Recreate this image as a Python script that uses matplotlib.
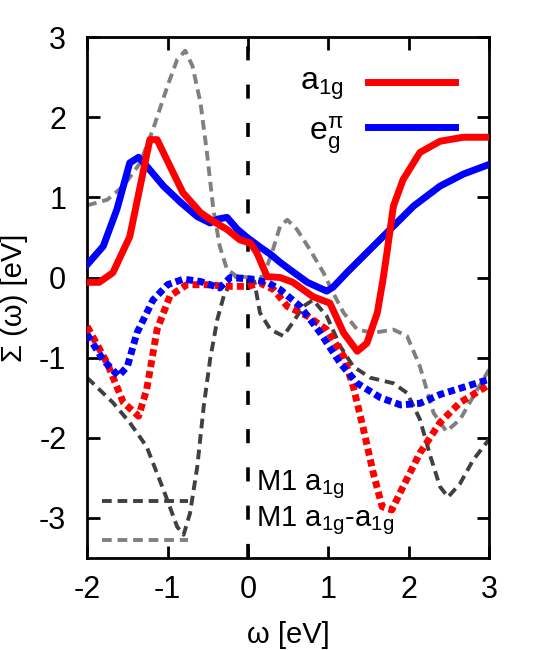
import matplotlib
matplotlib.use("Agg")
import matplotlib.pyplot as plt
from matplotlib.lines import Line2D

plt.rcParams['font.family'] = ['Liberation Sans', 'DejaVu Sans']
plt.rcParams['mathtext.fontset'] = 'custom'
plt.rcParams['mathtext.rm'] = 'Liberation Sans'
plt.rcParams['mathtext.it'] = 'Liberation Sans'

# ---- data ----
a1g_x = [-2.0, -1.85, -1.68, -1.47, -1.34, -1.22, -1.13, -0.97, -0.81, -0.59, -0.43, -0.26, -0.10, 0.03,
         0.11, 0.24, 0.40, 0.56, 0.81, 1.02, 1.19, 1.36, 1.48, 1.61, 1.68, 1.73, 1.81, 1.93, 2.14, 2.39, 2.68, 3.0]
a1g_y = [-0.06, -0.06, 0.06, 0.51, 1.14, 1.72, 1.72, 1.39, 1.06, 0.81, 0.70, 0.60, 0.47, 0.43,
         0.31, 0.01, 0.0, -0.06, -0.24, -0.32, -0.69, -0.92, -0.82, -0.44, -0.03, 0.31, 0.89, 1.22, 1.56, 1.70, 1.75, 1.75]

eg_x = [-2.0, -1.80, -1.63, -1.47, -1.36, -1.26, -1.05, -0.84, -0.63, -0.47, -0.37, -0.26, -0.13, -0.01,
        0.15, 0.28, 0.40, 0.52, 0.74, 0.98, 1.06, 1.23, 1.48, 1.77, 2.06, 2.39, 2.68, 3.0]
eg_y = [0.16, 0.39, 0.85, 1.43, 1.50, 1.39, 1.14, 0.94, 0.76, 0.68, 0.73, 0.75, 0.60, 0.50,
        0.38, 0.29, 0.19, 0.10, -0.06, -0.17, -0.12, 0.06, 0.31, 0.60, 0.89, 1.14, 1.29, 1.41]

a1g_im_x = [-2.0, -1.75, -1.55, -1.36, -1.26, -1.13, -0.97, -0.76, -0.51, -0.26, 0.0, 0.15, 0.32, 0.49,
            0.74, 0.98, 1.19, 1.31, 1.43, 1.56, 1.67, 1.79, 1.93, 2.14, 2.39, 2.64, 3.0]
a1g_im_y = [-0.61, -1.07, -1.56, -1.73, -1.40, -0.65, -0.23, -0.09, -0.09, -0.11, -0.11, -0.07, -0.15, -0.36,
            -0.48, -0.65, -0.98, -1.36, -1.86, -2.44, -2.86, -2.90, -2.61, -2.19, -1.81, -1.56, -1.34]

eg_im_x = [-2.0, -1.80, -1.61, -1.50, -1.38, -1.18, -1.0, -0.80, -0.59, -0.35, -0.22, 0.03, 0.24, 0.40,
           0.65, 0.90, 1.15, 1.36, 1.65, 1.90, 2.14, 2.39, 2.68, 3.0]
eg_im_y = [-0.71, -1.03, -1.23, -1.11, -0.69, -0.28, -0.09, -0.02, -0.05, -0.13, 0.0, -0.02, -0.06, -0.15,
           -0.36, -0.69, -1.07, -1.32, -1.50, -1.59, -1.57, -1.46, -1.37, -1.27]

m1_x = [-2.0, -1.68, -1.47, -1.26, -1.05, -0.88, -0.80, -0.72, -0.63, -0.55, -0.47, -0.38, -0.30, -0.22,
        -0.15, 0.0, 0.08, 0.15, 0.28, 0.44, 0.56, 0.69, 0.81, 0.98, 1.15, 1.31, 1.52, 1.81, 1.98, 2.14,
        2.27, 2.39, 2.49, 2.64, 2.80, 3.0]
m1_y = [-1.25, -1.56, -1.81, -2.11, -2.65, -3.11, -3.21, -2.94, -2.36, -1.61, -1.02, -0.52, -0.23, -0.07,
        0.01, 0.01, -0.05, -0.44, -0.65, -0.73, -0.56, -0.36, -0.28, -0.48, -0.86, -1.11, -1.25, -1.32, -1.44, -1.77,
        -2.23, -2.61, -2.74, -2.57, -2.28, -2.02]

m1aa_x = [-2.0, -1.75, -1.55, -1.34, -1.18, -1.0, -0.88, -0.78, -0.69, -0.59, -0.51, -0.43, -0.35, -0.26,
          -0.13, 0.07, 0.19, 0.30, 0.40, 0.49, 0.61, 0.77, 0.94, 1.06, 1.19, 1.36, 1.56, 1.81, 1.98, 2.14,
          2.31, 2.47, 2.64, 2.80, 3.0]
m1aa_y = [0.90, 0.97, 1.14, 1.43, 1.85, 2.39, 2.72, 2.83, 2.64, 2.18, 1.56, 0.85, 0.39, 0.10,
          0.01, 0.0, 0.01, 0.31, 0.64, 0.72, 0.60, 0.35, 0.06, -0.19, -0.44, -0.65, -0.69, -0.65, -0.73, -1.11,
          -1.69, -1.92, -1.77, -1.49, -1.15]

xticks = [-2, -1, 0, 1, 2, 3]
yticks = [-3, -2, -1, 0, 1, 2, 3]

# ---- figure ----
fig = plt.figure(figsize=(5.38, 6.5), dpi=100)
ax = fig.add_axes([0.162, 0.1415, 0.747, 0.8015])

RED = '#ff0000'
BLUE = '#0000ff'
DGRAY = '#404040'
LGRAY = '#808080'

ax.axvline(0, color='black', lw=2.6, dashes=(3.9, 6.7), zorder=1)

lw_gray = 2.8
gdash = (2.5, 1.5)
ax.plot(m1_x, m1_y, color=DGRAY, lw=lw_gray, dashes=gdash, zorder=2)
ax.plot(m1aa_x, m1aa_y, color=LGRAY, lw=lw_gray, dashes=gdash, zorder=2)

lw_thick = 5.0
ddash = (1.0, 0.6)
ax.plot(a1g_im_x, a1g_im_y, color=RED, lw=lw_thick, dashes=ddash, zorder=3)
ax.plot(eg_im_x, eg_im_y, color=BLUE, lw=lw_thick, dashes=ddash, zorder=3)

ax.plot(eg_x, eg_y, color=BLUE, lw=lw_thick, zorder=4, solid_joinstyle='round')
ax.plot(a1g_x, a1g_y, color=RED, lw=lw_thick, zorder=5, solid_joinstyle='round')

ax.set_xlim(-2, 3)
ax.set_ylim(-3.5, 3)
ax.set_xticks(xticks)
ax.set_yticks(yticks)
ax.set_xticklabels([str(t) for t in xticks])
ax.set_yticklabels([str(t) for t in yticks])
ax.tick_params(direction='in', length=9, width=2, top=True, right=True, labelsize=22)
ax.tick_params(axis='x', pad=12)
ax.tick_params(axis='y', pad=15)
for s in ax.spines.values():
    s.set_linewidth(2)

ax.set_xlabel('ω [eV]', fontsize=21, labelpad=12)
ax.set_ylabel('Σ (ω) [eV]', fontsize=21, labelpad=8)

# top-right key
tr = ax.transAxes
ax.add_line(Line2D([0.700, 0.915], [0.914, 0.914], transform=tr, color=RED, lw=lw_thick))
ax.add_line(Line2D([0.700, 0.915], [0.827, 0.827], transform=tr, color=BLUE, lw=lw_thick))
ax.text(0.637, 0.905, r'a$_{\mathregular{1g}}$', transform=tr, ha='right', va='center', fontsize=23)
ax.text(0.637, 0.812, r'e$_{\mathregular{g}}^{\pi}$', transform=tr, ha='right', va='center', fontsize=23)

# bottom-left key
ax.add_line(Line2D([0.037, 0.25], [0.109, 0.109], transform=tr, color=DGRAY, lw=lw_gray, dashes=gdash))
ax.add_line(Line2D([0.037, 0.25], [0.034, 0.034], transform=tr, color=LGRAY, lw=lw_gray, dashes=gdash))
ax.text(0.42, 0.14, r'M1 a$_{\mathregular{1g}}$', transform=tr, ha='left', va='center', fontsize=21)
ax.text(0.42, 0.072, r'M1 a$_{\mathregular{1g}}$-a$_{\mathregular{1g}}$', transform=tr, ha='left', va='center', fontsize=21)

fig.savefig('out.png', dpi=100)
